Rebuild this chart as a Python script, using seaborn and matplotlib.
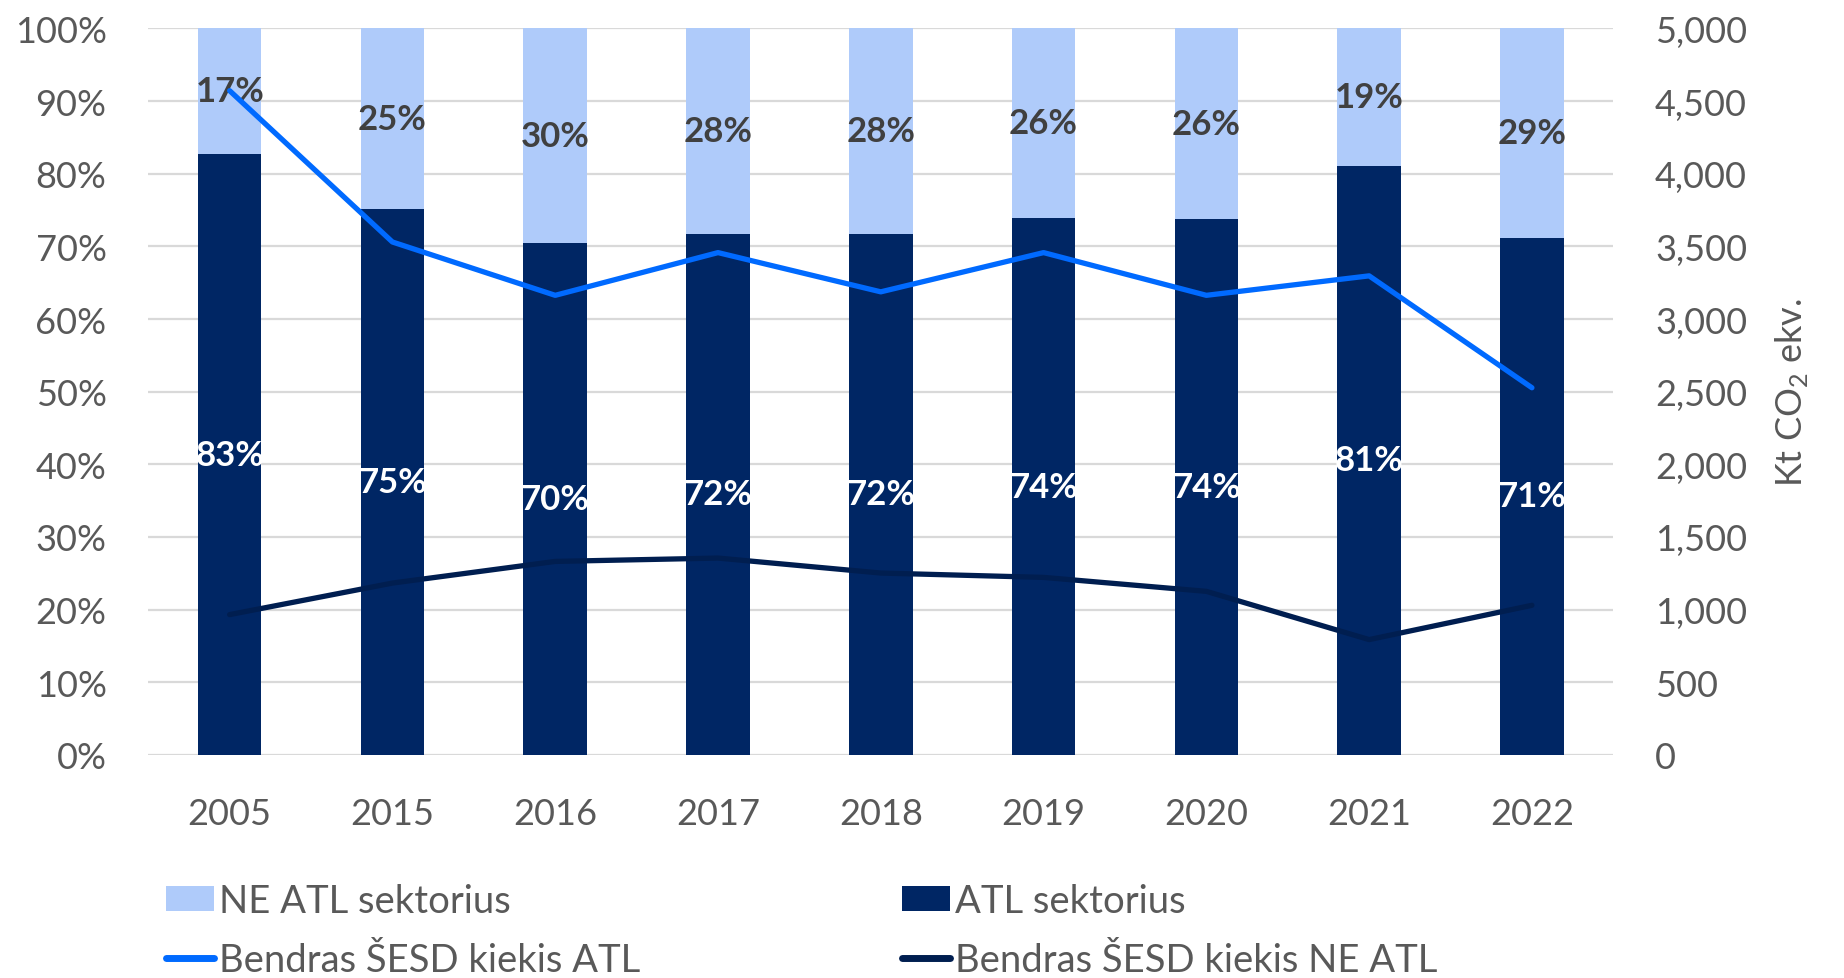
import numpy as np
import pandas as pd
import matplotlib
matplotlib.use("Agg")
import matplotlib.pyplot as plt
import seaborn as sns
from matplotlib.patches import Patch
from matplotlib.lines import Line2D
from matplotlib.ticker import FuncFormatter, MultipleLocator

years = ["2005", "2015", "2016", "2017", "2018", "2019", "2020", "2021", "2022"]
atl_share = [82.7, 75.1, 70.4, 71.7, 71.7, 73.9, 73.7, 81.1, 71.2]
ne_atl_share = [17.3, 24.9, 29.6, 28.3, 28.3, 26.1, 26.3, 18.9, 28.8]
atl_label = ["83%", "75%", "70%", "72%", "72%", "74%", "74%", "81%", "71%"]
ne_atl_label = ["17%", "25%", "30%", "28%", "28%", "26%", "26%", "19%", "29%"]
total_atl_kt = [4571, 3530, 3163, 3457, 3187, 3457, 3163, 3297, 2527]
total_ne_atl_kt = [966, 1183, 1332, 1355, 1252, 1222, 1126, 794, 1030]

C_LIGHT = "#AFCBFA"
C_DARK = "#002664"
C_LINE1 = "#006AFF"
C_LINE2 = "#001E50"
C_TEXT = "#595959"
C_GRID = "#D9D9D9"

sns.set_theme(style="white")
plt.rcParams["font.family"] = ["Lato", "DejaVu Sans"]

df = pd.DataFrame({
    "year": years,
    "atl": atl_share,
    "ne": ne_atl_share,
})
df["total"] = df["atl"] + df["ne"]

fig = plt.figure(figsize=(18.44, 9.79), dpi=100)
ax = fig.add_axes([0.0804, 0.2278, 0.8749 - 0.0804, 0.970 - 0.2278])

sns.barplot(data=df, x="year", y="total", color=C_LIGHT, width=0.39,
            saturation=1, linewidth=0, edgecolor="none", ax=ax, zorder=2)
sns.barplot(data=df, x="year", y="atl", color=C_DARK, width=0.39,
            saturation=1, linewidth=0, edgecolor="none", ax=ax, zorder=3)

for i in range(len(years)):
    ax.text(i, atl_share[i] + ne_atl_share[i] / 2, ne_atl_label[i],
            ha="center", va="center", fontsize=25, fontweight="bold",
            color="#404040", zorder=5)
    ax.text(i, atl_share[i] / 2, atl_label[i],
            ha="center", va="center", fontsize=25, fontweight="bold",
            color="white", zorder=5)

ax.set_xlim(-0.5, len(years) - 0.5)
ax.set_ylim(0, 100)
ax.yaxis.set_major_locator(MultipleLocator(10))
ax.yaxis.set_major_formatter(FuncFormatter(lambda v, p: f"{int(round(v))}%"))
ax.grid(axis="y", color=C_GRID, linewidth=1.6, zorder=0)
ax.set_axisbelow(True)
ax.set_xlabel("")
ax.set_ylabel("")
for s in ax.spines.values():
    s.set_visible(False)
ax.tick_params(axis="both", length=0, labelsize=26, colors=C_TEXT, pad=30)

ax2 = ax.twinx()
x_idx = np.arange(len(years))
sns.lineplot(x=x_idx, y=total_atl_kt, color=C_LINE1, linewidth=3.8, ax=ax2)
sns.lineplot(x=x_idx, y=total_ne_atl_kt, color=C_LINE2, linewidth=3.8, ax=ax2)
ax2.set_ylim(0, 5000)
ax2.set_xlim(-0.5, len(years) - 0.5)
ax2.yaxis.set_major_locator(MultipleLocator(500))
ax2.yaxis.set_major_formatter(FuncFormatter(lambda v, p: f"{int(round(v)):,}"))
for s in ax2.spines.values():
    s.set_visible(False)
ax2.grid(False)
ax2.tick_params(axis="y", length=0, labelsize=26, colors=C_TEXT, pad=30)
ax2.set_ylabel(r"Kt CO$_\mathregular{2}$ ekv.", fontsize=26, color=C_TEXT, labelpad=19)

leg_kw = dict(frameon=False, fontsize=27.5, labelcolor=C_TEXT, loc="upper left",
              handlelength=1.25, handleheight=0.65, handletextpad=0.15,
              labelspacing=0.6, borderaxespad=0, borderpad=0)
h1 = [Patch(facecolor=C_LIGHT, edgecolor="none"),
      Line2D([0], [0], color=C_LINE1, linewidth=5, solid_capstyle="round")]
h2 = [Patch(facecolor=C_DARK, edgecolor="none"),
      Line2D([0], [0], color=C_LINE2, linewidth=5, solid_capstyle="round")]
fig.legend(h1, ["NE ATL sektorius", "Bendras ŠESD kiekis ATL"],
           bbox_to_anchor=(166 / 1844, 1 - 884 / 979), **leg_kw)
fig.legend(h2, ["ATL sektorius", "Bendras ŠESD kiekis NE ATL"],
           bbox_to_anchor=(902 / 1844, 1 - 884 / 979), **leg_kw)

fig.savefig("out.png", dpi=100)
